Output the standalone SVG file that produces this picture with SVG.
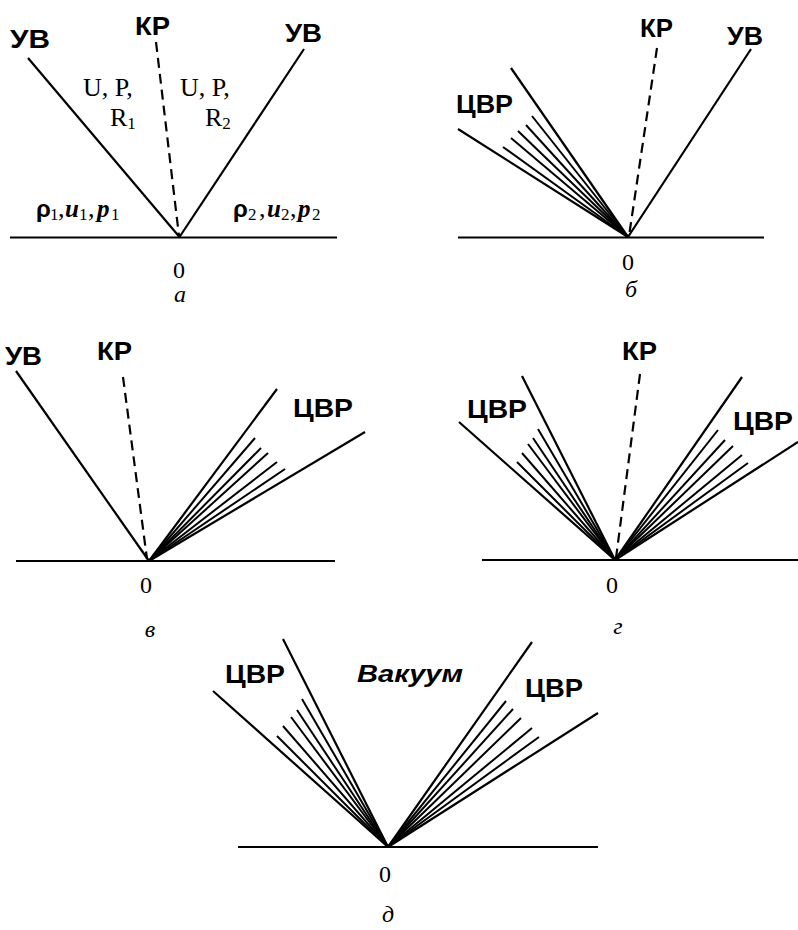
<svg xmlns="http://www.w3.org/2000/svg" width="798" height="930" viewBox="0 0 798 930">
  <style>
    .ln { stroke: #000; stroke-width: 2.2; fill: none; stroke-linecap: butt; }
    .fan { stroke: #000; stroke-width: 2; fill: none; }
    .dash { stroke: #000; stroke-width: 2.2; fill: none; stroke-dasharray: 10 6; }
    .lbl { font-family: "Liberation Sans", Arial, sans-serif; font-weight: bold; font-size: 25px; fill: #000; }
    .vac { font-family: "Liberation Sans", Arial, sans-serif; font-weight: bold; font-style: italic; font-size: 24px; fill: #000; }
    .ser { font-family: "Liberation Serif", "Times New Roman", serif; font-size: 26px; fill: #000; }
    .sub { font-family: "Liberation Serif", "Times New Roman", serif; font-size: 17px; fill: #000; }
    .num { font-family: "Liberation Serif", "Times New Roman", serif; font-size: 24px; fill: #000; text-anchor: middle; }
    .cap { font-family: "Liberation Serif", "Times New Roman", serif; font-style: italic; font-size: 24px; fill: #000; text-anchor: middle; }
    .gr { font-family: "Liberation Sans", Arial, sans-serif; font-weight: bold; font-size: 24px; }
    .bi { font-family: "Liberation Serif", "Times New Roman", serif; font-weight: bold; font-style: italic; font-size: 25px; }
  </style>

  <!-- Panel a: two shock waves and a contact discontinuity -->
  <g id="panel-a">
    <g id="a-connectors">
      <line class="ln" x1="10" y1="237.5" x2="337" y2="237.5"/>
      <line class="ln" x1="28" y1="58" x2="179.5" y2="237"/>
      <line class="ln" x1="304" y1="49" x2="179.5" y2="237"/>
      <line class="dash" x1="156" y1="42" x2="179" y2="236"/>
    </g>
    <g id="a-labels">
      <text class="lbl" x="10" y="48" textLength="40" lengthAdjust="spacingAndGlyphs">УВ</text>
      <text class="lbl" x="135" y="35" textLength="35" lengthAdjust="spacingAndGlyphs">КР</text>
      <text class="lbl" x="285" y="42" textLength="37" lengthAdjust="spacingAndGlyphs">УВ</text>
      <text class="ser" x="83" y="96">U, P,</text>
      <text class="ser" x="110" y="126">R<tspan class="sub" dy="3">1</tspan></text>
      <text class="ser" x="180" y="96">U, P,</text>
      <text class="ser" x="205" y="126">R<tspan class="sub" dy="3">2</tspan></text>
      <text y="217"><tspan class="gr" x="36">ρ</tspan><tspan class="sub" x="50" dy="3">1</tspan><tspan class="ser" x="58" dy="-3">,</tspan><tspan class="bi" x="65">u</tspan><tspan class="sub" x="79" dy="3">1</tspan><tspan class="ser" x="88" dy="-3">,</tspan><tspan class="bi" x="97">p</tspan><tspan class="sub" x="111" dy="3">1</tspan></text>
      <text y="217"><tspan class="gr" x="233">ρ</tspan><tspan class="sub" x="248" dy="3">2</tspan><tspan class="ser" x="259" dy="-3">,</tspan><tspan class="bi" x="267">u</tspan><tspan class="sub" x="281" dy="3">2</tspan><tspan class="ser" x="290" dy="-3">,</tspan><tspan class="bi" x="298">p</tspan><tspan class="sub" x="312" dy="3">2</tspan></text>
      <text class="num" x="179" y="278">0</text>
      <text class="cap" x="180" y="302">а</text>
    </g>
  </g>

  <!-- Panel b: centred rarefaction wave to the left, shock to the right -->
  <g id="panel-b">
    <g id="b-connectors">
      <line class="ln" x1="458" y1="237.5" x2="764" y2="237.5"/>
      <line class="ln" x1="751" y1="49" x2="628" y2="237"/>
      <line class="dash" x1="657" y1="48" x2="629" y2="236"/>
      <line class="ln" x1="511" y1="68" x2="628" y2="237"/>
      <line class="ln" x1="458" y1="129" x2="628" y2="237"/>
      <line class="fan" x1="532" y1="116" x2="628" y2="237"/>
      <line class="fan" x1="526" y1="125" x2="628" y2="237"/>
      <line class="fan" x1="518" y1="131" x2="628" y2="237"/>
      <line class="fan" x1="511" y1="138" x2="628" y2="237"/>
      <line class="fan" x1="503" y1="147" x2="628" y2="237"/>
    </g>
    <g id="b-labels">
      <text class="lbl" x="456" y="113" textLength="57" lengthAdjust="spacingAndGlyphs">ЦВР</text>
      <text class="lbl" x="640" y="37" textLength="33" lengthAdjust="spacingAndGlyphs">КР</text>
      <text class="lbl" x="727" y="45" textLength="36" lengthAdjust="spacingAndGlyphs">УВ</text>
      <text class="num" x="628" y="270">0</text>
      <text class="cap" x="631" y="297">б</text>
    </g>
  </g>

  <!-- Panel v: shock to the left, centred rarefaction wave to the right -->
  <g id="panel-v">
    <g id="v-connectors">
      <line class="ln" x1="16" y1="561" x2="335" y2="561"/>
      <line class="ln" x1="16" y1="371" x2="149" y2="561"/>
      <line class="dash" x1="123" y1="377" x2="147" y2="559"/>
      <line class="ln" x1="277" y1="389" x2="149" y2="561"/>
      <line class="ln" x1="365" y1="432" x2="149" y2="561"/>
      <line class="fan" x1="255" y1="438" x2="149" y2="561"/>
      <line class="fan" x1="261" y1="448" x2="149" y2="561"/>
      <line class="fan" x1="268" y1="453" x2="149" y2="561"/>
      <line class="fan" x1="277" y1="462" x2="149" y2="561"/>
      <line class="fan" x1="285" y1="469" x2="149" y2="561"/>
    </g>
    <g id="v-labels">
      <text class="lbl" x="5" y="365" textLength="37" lengthAdjust="spacingAndGlyphs">УВ</text>
      <text class="lbl" x="97" y="360" textLength="35" lengthAdjust="spacingAndGlyphs">КР</text>
      <text class="lbl" x="293" y="417" textLength="60" lengthAdjust="spacingAndGlyphs">ЦВР</text>
      <text class="num" x="146" y="593">0</text>
      <text class="cap" x="150" y="637">в</text>
    </g>
  </g>

  <!-- Panel g: two centred rarefaction waves -->
  <g id="panel-g">
    <g id="g-connectors">
      <line class="ln" x1="482" y1="560" x2="798" y2="560"/>
      <line class="dash" x1="640" y1="374" x2="616" y2="558"/>
      <line class="ln" x1="522" y1="376" x2="615" y2="560"/>
      <line class="ln" x1="459" y1="422" x2="615" y2="560"/>
      <line class="fan" x1="538" y1="429" x2="615" y2="560"/>
      <line class="fan" x1="533" y1="438" x2="615" y2="560"/>
      <line class="fan" x1="528" y1="444" x2="615" y2="560"/>
      <line class="fan" x1="522" y1="453" x2="615" y2="560"/>
      <line class="fan" x1="517" y1="462" x2="615" y2="560"/>
      <line class="ln" x1="742" y1="377" x2="615" y2="560"/>
      <line class="ln" x1="798" y1="442" x2="615" y2="560"/>
      <line class="fan" x1="718" y1="430" x2="615" y2="560"/>
      <line class="fan" x1="725" y1="440" x2="615" y2="560"/>
      <line class="fan" x1="733" y1="446" x2="615" y2="560"/>
      <line class="fan" x1="742" y1="455" x2="615" y2="560"/>
      <line class="fan" x1="748" y1="463" x2="615" y2="560"/>
    </g>
    <g id="g-labels">
      <text class="lbl" x="622" y="360" textLength="35" lengthAdjust="spacingAndGlyphs">КР</text>
      <text class="lbl" x="467" y="418" textLength="60" lengthAdjust="spacingAndGlyphs">ЦВР</text>
      <text class="lbl" x="733" y="430" textLength="60" lengthAdjust="spacingAndGlyphs">ЦВР</text>
      <text class="num" x="612" y="593">0</text>
      <text class="cap" x="618" y="634">г</text>
    </g>
  </g>

  <!-- Panel d: two rarefaction waves with vacuum between them -->
  <g id="panel-d">
    <g id="d-connectors">
      <line class="ln" x1="238" y1="847" x2="598" y2="847"/>
      <line class="ln" x1="283" y1="639" x2="388" y2="847"/>
      <line class="ln" x1="213" y1="691" x2="388" y2="847"/>
      <line class="fan" x1="302" y1="699" x2="388" y2="847"/>
      <line class="fan" x1="297" y1="710" x2="388" y2="847"/>
      <line class="fan" x1="291" y1="717" x2="388" y2="847"/>
      <line class="fan" x1="283" y1="726" x2="388" y2="847"/>
      <line class="fan" x1="277" y1="736" x2="388" y2="847"/>
      <line class="ln" x1="532" y1="642" x2="388" y2="847"/>
      <line class="ln" x1="598" y1="713" x2="388" y2="847"/>
      <line class="fan" x1="506" y1="701" x2="388" y2="847"/>
      <line class="fan" x1="513" y1="709" x2="388" y2="847"/>
      <line class="fan" x1="521" y1="718" x2="388" y2="847"/>
      <line class="fan" x1="532" y1="728" x2="388" y2="847"/>
      <line class="fan" x1="539" y1="737" x2="388" y2="847"/>
    </g>
    <g id="d-labels">
      <text class="lbl" x="225" y="683" textLength="60" lengthAdjust="spacingAndGlyphs">ЦВР</text>
      <text class="vac" x="357" y="682" textLength="106" lengthAdjust="spacingAndGlyphs">Вакуум</text>
      <text class="lbl" x="525" y="697" textLength="58" lengthAdjust="spacingAndGlyphs">ЦВР</text>
      <text class="num" x="385" y="882">0</text>
      <text class="cap" x="388" y="922">д</text>
    </g>
  </g>
</svg>
